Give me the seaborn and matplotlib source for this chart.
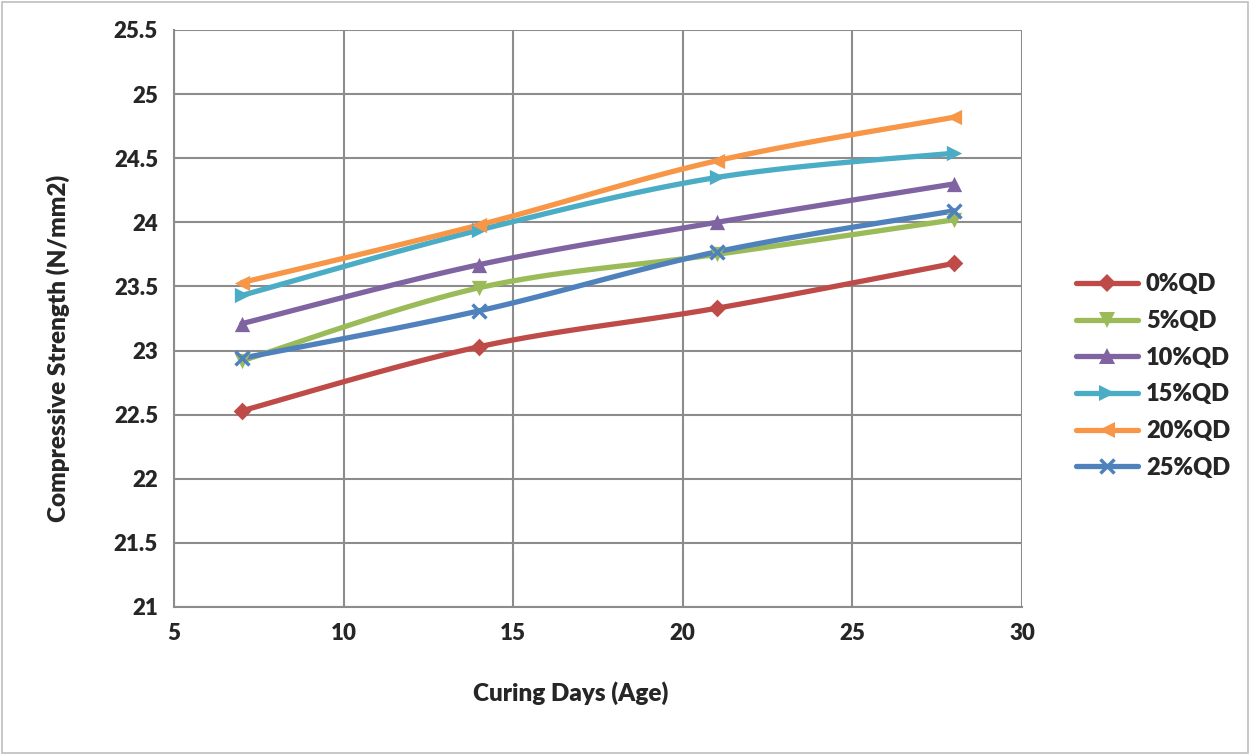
import numpy as np
import pandas as pd
import matplotlib
matplotlib.use("Agg")
import matplotlib.pyplot as plt
import seaborn as sns

days = [7, 14, 21, 28]
series_names = ["0%QD", "5%QD", "10%QD", "15%QD", "20%QD", "25%QD"]
qd0 = [22.53, 23.03, 23.33, 23.68]
qd5 = [22.92, 23.49, 23.75, 24.02]
qd10 = [23.21, 23.67, 24.00, 24.30]
qd15 = [23.43, 23.94, 24.35, 24.54]
qd20 = [23.53, 23.98, 24.48, 24.82]
qd25 = [22.94, 23.31, 23.77, 24.09]
x_ticks = [5, 10, 15, 20, 25, 30]
y_ticks = [21, 21.5, 22, 22.5, 23, 23.5, 24, 24.5, 25, 25.5]

colors = ["#BE4B48", "#9BBB59", "#8064A2", "#4BACC6", "#F79646", "#4F81BD"]
markers = ["D", "v", "^", ">", "<", "x"]
msizes = [9, 11, 11, 11, 11, 10]


def smooth(xs, ys, n=40):
    """Catmull-Rom style smoothing (as spreadsheet 'smoothed line')."""
    xs = np.asarray(xs, float)
    ys = np.asarray(ys, float)
    px = np.concatenate([[xs[0]], xs, [xs[-1]]])
    py = np.concatenate([[ys[0]], ys, [ys[-1]]])
    out_x, out_y = [], []
    for i in range(1, len(px) - 2):
        p0 = np.array([px[i - 1], py[i - 1]])
        p1 = np.array([px[i], py[i]])
        p2 = np.array([px[i + 1], py[i + 1]])
        p3 = np.array([px[i + 2], py[i + 2]])
        c1 = p1 + (p2 - p0) / 6.0
        c2 = p2 - (p3 - p1) / 6.0
        t = np.linspace(0, 1, n)[:, None]
        b = ((1 - t) ** 3) * p1 + 3 * ((1 - t) ** 2) * t * c1 + 3 * (1 - t) * t ** 2 * c2 + t ** 3 * p2
        out_x.extend(b[:, 0])
        out_y.extend(b[:, 1])
    return np.array(out_x), np.array(out_y)


sns.set_style("white")
plt.rcParams["font.family"] = ["Lato", "DejaVu Sans"]
W = "heavy"

fig = plt.figure(figsize=(12.5, 7.55), dpi=100)
ax = fig.add_axes([174 / 1250, 1 - 607 / 755, (1022 - 174) / 1250, (607 - 30) / 755])

all_series = [qd0, qd5, qd10, qd15, qd20, qd25]
handles = []
for name, vals, c, m, ms in zip(series_names, all_series, colors, markers, msizes):
    sx, sy = smooth(days, vals)
    curve = pd.DataFrame({"x": sx, "y": sy})
    sns.lineplot(data=curve, x="x", y="y", ax=ax, color=c, linewidth=3.8,
                 sort=False, estimator=None, zorder=3)
    pts = pd.DataFrame({"x": days, "y": vals})
    sns.scatterplot(data=pts, x="x", y="y", ax=ax, color=c, marker=m,
                    s=ms ** 2, linewidth=2.5 if m == "x" else 0,
                    edgecolor=c, zorder=4)
    handles.append(plt.Line2D([], [], color=c, lw=3.8, marker=m, markersize=ms,
                              markeredgewidth=2.5 if m == "x" else 0,
                              markeredgecolor=c, markerfacecolor=c))

ax.set_xlim(5, 30)
ax.set_ylim(21, 25.5)
ax.set_xticks(x_ticks)
ax.set_yticks(y_ticks)
ax.set_xticklabels([str(v) for v in x_ticks])
ax.set_yticklabels([f"{v:g}" for v in y_ticks])
ax.grid(True, color="#8C8C8C", linewidth=1.5)
ax.set_axisbelow(True)
for s in ["left", "bottom"]:
    ax.spines[s].set_color("#8C8C8C")
    ax.spines[s].set_linewidth(1.5)
for s in ["top", "right"]:
    ax.spines[s].set_visible(False)
ax.tick_params(axis="both", labelsize=16, length=7.5, width=1.5, color="#8C8C8C",
               direction="out", pad=4)
for lab in ax.get_xticklabels() + ax.get_yticklabels():
    lab.set_fontweight(W)

ax.set_xlabel("Curing Days (Age)", fontsize=17.5, fontweight=W)
ax.set_ylabel("Compressive Strength (N/mm2)", fontsize=17.5, fontweight=W)
ax.xaxis.set_label_coords((571 - 174) / (1022 - 174), -(693 - 607) / (607 - 30), transform=ax.transAxes)
ax.xaxis.label.set_verticalalignment("center")
ax.yaxis.set_label_coords(-(174 - 58) / (1022 - 174), (607 - 348) / (607 - 30), transform=ax.transAxes)
ax.yaxis.label.set_verticalalignment("center")

leg = fig.legend(handles, series_names, loc="center left",
                 bbox_to_anchor=(1055 / 1250, 1 - 376 / 755), frameon=False,
                 prop={"size": 17, "weight": W}, handlelength=2.6,
                 labelspacing=0.62, handletextpad=0.35)

fig.patches.append(plt.Rectangle((0.0015, 0.002), 0.997, 0.996, transform=fig.transFigure,
                                 fill=False, edgecolor="#BFBFBF", linewidth=1.2))

fig.savefig("out.png", dpi=100, facecolor="white")
